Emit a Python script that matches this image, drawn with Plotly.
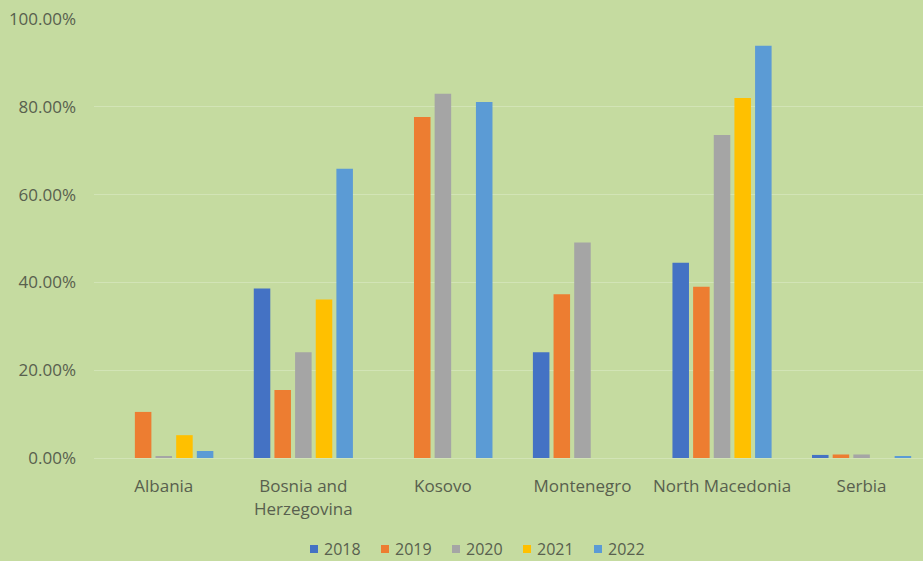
import plotly.graph_objects as go

countries = ["Albania", "Bosnia and<br>Herzegovina", "Kosovo", "Montenegro", "North Macedonia", "Serbia"]
years = ["2018", "2019", "2020", "2021", "2022"]

share_2018 = [0.000, 0.386, None, 0.241, 0.445, 0.007]
share_2019 = [0.105, 0.155, 0.777, 0.373, 0.390, 0.008]
share_2020 = [0.004, 0.241, 0.830, 0.491, 0.736, 0.008]
share_2021 = [0.052, 0.361, None, None, 0.820, 0.000]
share_2022 = [0.016, 0.659, 0.811, None, 0.939, 0.004]

series = [share_2018, share_2019, share_2020, share_2021, share_2022]
colors = ["#4472C4", "#ED7D31", "#A5A5A5", "#FFC000", "#5B9BD5"]

bg = "#C5DBA0"
grid = "#D2E4B6"
text_color = "#58604E"
font_family = "Open Sans, Liberation Sans, sans-serif"

W, H = 923, 561
ML, MR, MT, MB = 94, 0, 19, 103
plot_w = W - ML - MR
plot_h = H - MT - MB

fig = go.Figure()
for year, vals, col in zip(years, series, colors):
    fig.add_trace(go.Bar(name=year, x=countries, y=vals, marker_color=col,
                         marker_line_width=0, showlegend=False))

# compact legend row under the axis: small square + year label
legend_left_px = 310
legend_step_px = 71
legend_y_px = 549
sq = 8
for i, (year, col) in enumerate(zip(years, colors)):
    x_px = legend_left_px + i * legend_step_px
    fig.add_shape(type="rect", xref="paper", yref="paper",
                  x0=(x_px - ML) / plot_w, x1=(x_px + sq - ML) / plot_w,
                  y0=(H - MB - legend_y_px - sq / 2) / plot_h,
                  y1=(H - MB - legend_y_px + sq / 2) / plot_h,
                  fillcolor=col, line_width=0)
    fig.add_annotation(text=year, xref="paper", yref="paper",
                       x=(x_px + sq + 4 - ML) / plot_w, xanchor="left",
                       y=(H - MB - legend_y_px) / plot_h, yanchor="middle",
                       showarrow=False, font=dict(size=16, color=text_color))

fig.update_layout(
    width=W, height=H,
    paper_bgcolor=bg, plot_bgcolor=bg,
    margin=dict(l=ML, r=MR, t=MT, b=MB),
    barmode="group", bargap=0.26, bargroupgap=0.2,
    font=dict(family=font_family, size=17, color=text_color),
    showlegend=False,
)
fig.update_yaxes(range=[0, 1.0], tickvals=[0, 0.2, 0.4, 0.6, 0.8, 1.0],
                 tickformat=".2%", showgrid=True, gridcolor=grid, gridwidth=1,
                 zeroline=False, showline=False, ticks="", ticklabelstandoff=17,
                 tickfont=dict(size=17))
fig.update_xaxes(range=[-0.5, 5.44], showline=True, linecolor=grid, linewidth=1,
                 ticks="", ticklabelstandoff=13, tickangle=0,
                 tickfont=dict(size=17))

fig.write_html("out.html")
